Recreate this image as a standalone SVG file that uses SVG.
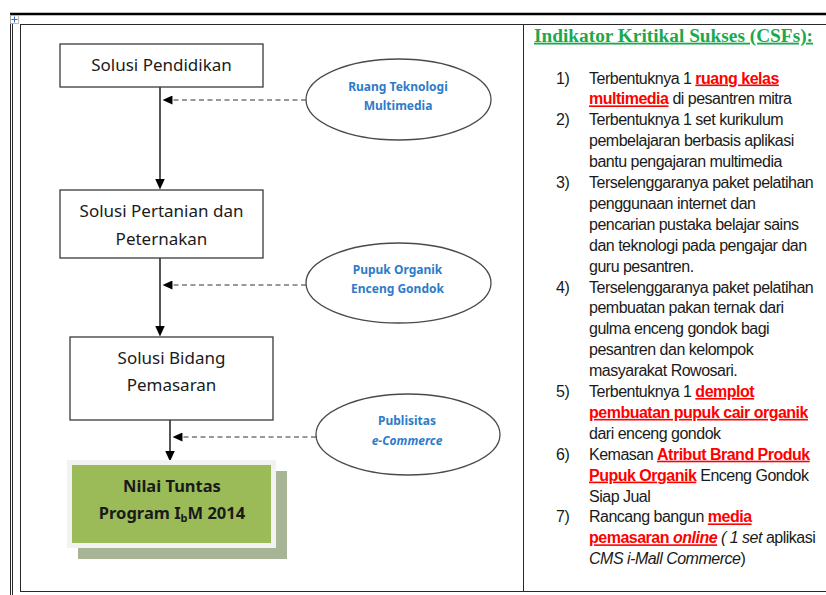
<svg xmlns="http://www.w3.org/2000/svg" width="826" height="595" viewBox="0 0 826 595">
<style>
.frame{stroke:#2a2a2a;stroke-width:1;fill:none}
.box{fill:#fff;stroke:#3a3a3a;stroke-width:1.3}
.btxt{font-family:"Noto Sans","Open Sans",sans-serif;font-size:17px;fill:#1a1a1a;text-anchor:middle}
.gtxt{font-family:"Noto Sans","Open Sans",sans-serif;font-size:16.5px;font-weight:bold;fill:#1a1a1a;text-anchor:middle}
.ell{fill:#fff;stroke:#4a4a4a;stroke-width:1.3}
.etxt{font-family:"Noto Sans","Open Sans",sans-serif;font-size:12px;font-weight:bold;fill:#2E7BC9;text-anchor:middle}
.flow{stroke:#444;stroke-width:1.8;fill:none}
.dash{stroke:#333;stroke-width:1.2;stroke-dasharray:5 3.5;fill:none}
.list{font-family:"Liberation Sans",Arial,sans-serif;font-size:16px;fill:#1a1a1a;letter-spacing:-0.5px}
.hl{fill:#FF0000;font-weight:bold;text-decoration:underline}
.it{font-style:italic}
.title{font-family:"Liberation Serif","Times New Roman",serif;font-size:18.5px;font-weight:bold;fill:#1DA84E;text-decoration:underline}
</style>
<defs>
<marker id="ah" viewBox="0 0 11 10" refX="0.5" refY="5" markerWidth="11" markerHeight="10" markerUnits="userSpaceOnUse" orient="auto">
<path d="M0,0 L11,5 L0,10 z" fill="#000"/>
</marker>
<marker id="ahd" viewBox="0 0 11 10" refX="0.5" refY="5" markerWidth="11" markerHeight="9" markerUnits="userSpaceOnUse" orient="auto">
<path d="M0,0 L11,5 L0,10 z" fill="#000"/>
</marker>
</defs>

<g id="frame">
<line x1="10" y1="14" x2="826" y2="14" stroke="#000" stroke-width="2.6"/>
<line class="frame" x1="10.5" y1="14" x2="10.5" y2="595"/>
<line class="frame" x1="12.5" y1="14" x2="12.5" y2="595"/>
<line class="frame" x1="20" y1="24.5" x2="826" y2="24.5"/>
<line class="frame" x1="20.5" y1="24.5" x2="20.5" y2="591.5"/>
<line class="frame" x1="20" y1="591.5" x2="826" y2="591.5"/>
<line class="frame" x1="523.5" y1="24.5" x2="523.5" y2="591.5"/>
<rect x="10.5" y="15.5" width="8" height="8" fill="#fff" stroke="#aaa" stroke-width="0.8"/>
<path d="M14.5,16.5 V22.5 M11.5,19.5 H17.5" stroke="#3366cc" stroke-width="1"/>
</g>

<g id="connectors">
<path class="flow" d="M160,87 V179" marker-end="url(#ah)"/>
<path class="flow" d="M160,258 V326" marker-end="url(#ah)"/>
<path class="flow" d="M170,420 V451" marker-end="url(#ah)"/>
<path class="dash" d="M306,100 H172" marker-end="url(#ahd)"/>
<path class="dash" d="M306,285 H172" marker-end="url(#ahd)"/>
<path class="dash" d="M316,437 H182" marker-end="url(#ahd)"/>
</g>

<g id="solusi-pendidikan">
<rect class="box" x="60" y="44" width="203" height="43"/>
<text class="btxt" x="161.5" y="71">Solusi Pendidikan</text>
</g>

<g id="solusi-pertanian">
<rect class="box" x="60" y="190" width="203" height="68"/>
<text class="btxt" x="161.5" y="217">Solusi Pertanian dan</text>
<text class="btxt" x="161.5" y="244.5">Peternakan</text>
</g>

<g id="solusi-pemasaran">
<rect class="box" x="70" y="337" width="203" height="83"/>
<text class="btxt" x="171.5" y="364">Solusi Bidang</text>
<text class="btxt" x="171.5" y="391">Pemasaran</text>
</g>

<g id="nilai-tuntas">
<rect x="78" y="471" width="209" height="88" fill="#A8B496"/>
<rect x="67" y="460" width="209" height="88" fill="#F2F2F2"/>
<rect x="72" y="465" width="199" height="78" fill="#9BBB59"/>
<text class="gtxt" x="172" y="491.5">Nilai Tuntas</text>
<text class="gtxt" x="172" y="519">Program I<tspan font-size="11" dy="3">b</tspan><tspan dy="-3">M 2014</tspan></text>
</g>

<g id="ruang-teknologi">
<ellipse class="ell" cx="398.5" cy="99.5" rx="92.5" ry="40.5"/>
<text class="etxt" x="398" y="90.5">Ruang Teknologi</text>
<text class="etxt" x="398" y="110">Multimedia</text>
</g>

<g id="pupuk-organik">
<ellipse class="ell" cx="398.5" cy="283" rx="92.5" ry="40"/>
<text class="etxt" x="397.5" y="273.5">Pupuk Organik</text>
<text class="etxt" x="397.5" y="292.5">Enceng Gondok</text>
</g>

<g id="publisitas">
<ellipse class="ell" cx="408" cy="434.5" rx="92" ry="40.5"/>
<text class="etxt" x="407" y="425">Publisitas</text>
<text class="etxt it" x="407" y="444.5">e-Commerce</text>
</g>

<g id="csf">
<text class="title" x="534" y="41.7" textLength="279" lengthAdjust="spacingAndGlyphs">Indikator Kritikal Sukses (CSFs):</text>
<g class="list">
<text x="556" y="83.5">1)</text>
<text x="589" y="83.5">Terbentuknya 1 <tspan class="hl">ruang kelas</tspan></text>
<text x="589" y="104.4"><tspan class="hl">multimedia</tspan> di pesantren mitra</text>
<text x="556" y="125.3">2)</text>
<text x="589" y="125.3">Terbentuknya 1 set kurikulum</text>
<text x="589" y="146.2">pembelajaran berbasis aplikasi</text>
<text x="589" y="167.1">bantu pengajaran multimedia</text>
<text x="556" y="188">3)</text>
<text x="589" y="188">Terselenggaranya paket pelatihan</text>
<text x="589" y="208.9">penggunaan internet dan</text>
<text x="589" y="229.8">pencarian pustaka belajar sains</text>
<text x="589" y="250.7">dan teknologi pada pengajar dan</text>
<text x="589" y="271.6">guru pesantren.</text>
<text x="556" y="292.5">4)</text>
<text x="589" y="292.5">Terselenggaranya paket pelatihan</text>
<text x="589" y="313.4">pembuatan pakan ternak dari</text>
<text x="589" y="334.3">gulma enceng gondok bagi</text>
<text x="589" y="355.2">pesantren dan kelompok</text>
<text x="589" y="376.1">masyarakat Rowosari.</text>
<text x="556" y="397">5)</text>
<text x="589" y="397">Terbentuknya 1 <tspan class="hl">demplot</tspan></text>
<text x="589" y="417.9"><tspan class="hl">pembuatan pupuk cair organik</tspan></text>
<text x="589" y="438.8">dari enceng gondok</text>
<text x="556" y="459.7">6)</text>
<text x="589" y="459.7">Kemasan <tspan class="hl">Atribut Brand Produk</tspan></text>
<text x="589" y="480.6"><tspan class="hl">Pupuk Organik</tspan> Enceng Gondok</text>
<text x="589" y="501.5">Siap Jual</text>
<text x="556" y="522.4">7)</text>
<text x="589" y="522.4">Rancang bangun <tspan class="hl">media</tspan></text>
<text x="589" y="543.3"><tspan class="hl">pemasaran <tspan class="it">online</tspan></tspan> <tspan class="it">( 1 set</tspan> aplikasi</text>
<text x="589" y="564.2"><tspan class="it">CMS i-Mall Commerce</tspan>)</text>
</g>
</g>
</svg>
